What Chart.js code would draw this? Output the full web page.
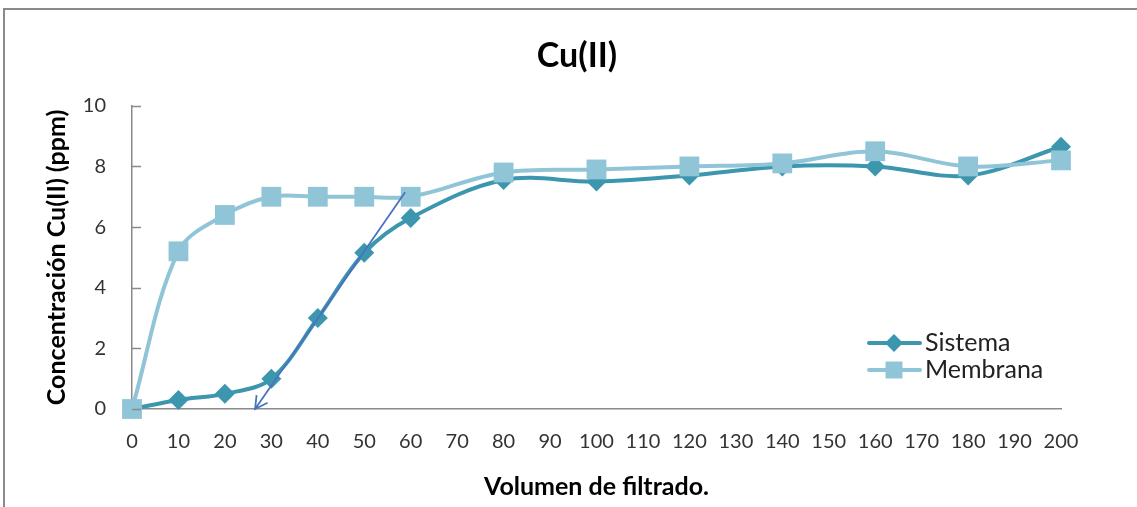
<!DOCTYPE html>
<html>
<head>
<meta charset="utf-8">
<script src="https://cdn.jsdelivr.net/npm/chart.js@4.4.1/dist/chart.umd.min.js"></script>
<style>
  html, body { margin: 0; padding: 0; background: #fff; }
  #wrap { position: relative; width: 1137px; height: 507px; overflow: hidden; }
  #frame { position: absolute; left: 3px; top: 8px; width: 1200px; height: 600px;
           border: 2px solid #8a8a8a; pointer-events: none; }
</style>
</head>
<body>
<div id="wrap">
  <canvas id="chart" width="1137" height="507"></canvas>
  <div id="frame"></div>
</div>
<script>
// Volumen de filtrado (eje X)
const volumen = [0, 10, 20, 30, 40, 50, 60, 80, 100, 120, 140, 160, 180, 200];
// Concentración Cu(II) en ppm
const sistema = [0, 0.3, 0.5, 1.0, 3.0, 5.15, 6.3, 7.55, 7.5, 7.7, 8.0, 8.0, 7.7, 8.65];
const membrana = [0, 5.2, 6.4, 7.0, 7.0, 7.0, 7.0, 7.8, 7.9, 8.0, 8.1, 8.5, 8.0, 8.2];
// Flecha dibujada a mano en el original (coordenadas de datos)
const flecha = [{ x: 58.8, y: 7.15 }, { x: 26.5, y: 0 }];

const COLOR_SISTEMA = '#3b96ae';
const COLOR_MEMBRANA = '#8fc5d7';
const AXIS_COLOR = '#8a8a8a';
const FONT = 'Lato, "Open Sans", sans-serif';

const toPoints = (ys) => volumen.map((x, i) => ({ x, y: ys[i] }));

// marcas del eje Y hacia dentro (estilo Excel)
const innerTicksPlugin = {
  id: 'innerTicks',
  afterDraw(chart) {
    const { ctx, scales: { y } } = chart;
    ctx.save();
    ctx.strokeStyle = AXIS_COLOR;
    ctx.lineWidth = 1.5;
    ctx.beginPath();
    y.ticks.forEach(t => {
      const py = Math.round(y.getPixelForValue(t.value)) + 0.5;
      ctx.moveTo(y.right, py);
      ctx.lineTo(y.right + 9, py);
    });
    ctx.stroke();
    ctx.restore();
  }
};

// leyenda dentro del área del gráfico, como en Excel
const legendPlugin = {
  id: 'insideLegend',
  afterDraw(chart) {
    const ctx = chart.ctx;
    const items = [
      { label: 'Sistema', color: COLOR_SISTEMA, style: 'rectRot', r: 9, y: 343 },
      { label: 'Membrana', color: COLOR_MEMBRANA, style: 'rect', r: 12, y: 370 }
    ];
    ctx.save();
    items.forEach(it => {
      ctx.strokeStyle = it.color;
      ctx.lineWidth = 4;
      ctx.lineCap = 'round';
      ctx.beginPath();
      ctx.moveTo(869, it.y);
      ctx.lineTo(920, it.y);
      ctx.stroke();
      ctx.fillStyle = it.color;
      Chart.helpers.drawPoint(ctx, { pointStyle: it.style, radius: it.r, borderWidth: 0 }, 894, it.y);
      ctx.fillStyle = '#222';
      ctx.font = '25px ' + FONT;
      ctx.textBaseline = 'middle';
      ctx.fillText(it.label, 925, it.y);
    });
    ctx.restore();
  }
};

const arrowPlugin = {
  id: 'arrow',
  afterDatasetsDraw(chart) {
    const { ctx, scales: { x, y } } = chart;
    const x1 = x.getPixelForValue(flecha[0].x), y1 = y.getPixelForValue(flecha[0].y);
    const x2 = x.getPixelForValue(flecha[1].x), y2 = y.getPixelForValue(flecha[1].y);
    const ang = Math.atan2(y2 - y1, x2 - x1);
    ctx.save();
    ctx.strokeStyle = '#4a72c0';
    ctx.lineWidth = 1.8;
    ctx.beginPath();
    ctx.moveTo(x1, y1);
    ctx.lineTo(x2, y2);
    ctx.moveTo(x2 - 14 * Math.cos(ang - 0.5), y2 - 14 * Math.sin(ang - 0.5));
    ctx.lineTo(x2, y2);
    ctx.lineTo(x2 - 14 * Math.cos(ang + 0.5), y2 - 14 * Math.sin(ang + 0.5));
    ctx.stroke();
    ctx.restore();
  }
};

new Chart(document.getElementById('chart'), {
  type: 'line',
  data: {
    datasets: [
      {
        label: 'Sistema',
        data: toPoints(sistema),
        borderColor: COLOR_SISTEMA,
        backgroundColor: COLOR_SISTEMA,
        borderWidth: 4,
        tension: 0.35,
        pointStyle: 'rectRot',
        pointRadius: 10,
        pointBorderWidth: 0,
        clip: false,
        order: 2
      },
      {
        label: 'Membrana',
        data: toPoints(membrana),
        borderColor: COLOR_MEMBRANA,
        backgroundColor: COLOR_MEMBRANA,
        borderWidth: 4,
        tension: 0.35,
        pointStyle: 'rect',
        pointRadius: 14,
        pointBorderWidth: 0,
        clip: false,
        order: 1
      }
    ]
  },
  options: {
    responsive: false,
    animation: false,
    // padding izquierda + eje derecho vacío para centrar el título como en el original
    layout: { padding: { top: 10, right: 0, left: 17, bottom: 0 } },
    plugins: {
      legend: { display: false },
      tooltip: { enabled: false },
      title: {
        display: true,
        text: 'Cu(II)',
        color: '#000',
        font: { family: FONT, size: 34, weight: 'bold' },
        padding: { top: 26, bottom: 29 }
      }
    },
    scales: {
      x: {
        type: 'linear',
        min: 0,
        max: 200,
        afterFit: (s) => { s.height = 98; },
        grid: { display: false, drawTicks: false },
        border: { display: true, color: AXIS_COLOR, width: 1.5 },
        ticks: {
          stepSize: 10,
          padding: 21,
          color: '#333',
          font: { family: FONT, size: 20 },
          maxRotation: 0,
          autoSkip: false
        },
        title: {
          display: true,
          text: 'Volumen de filtrado.',
          color: '#000',
          font: { family: FONT, size: 25, weight: 'bold' },
          padding: { top: 0, bottom: 5 }
        }
      },
      y: {
        min: 0,
        max: 10,
        afterFit: (s) => { s.width = 115; },
        grid: { display: false, drawTicks: false },
        border: { display: true, color: AXIS_COLOR, width: 1.5 },
        ticks: {
          stepSize: 2,
          padding: 26,
          color: '#333',
          font: { family: FONT, size: 20 }
        },
        title: {
          display: true,
          text: 'Concentración Cu(II) (ppm)',
          color: '#000',
          font: { family: FONT, size: 25, weight: 'bold' },
          padding: { top: 25, bottom: 0 }
        }
      },
      derecha: {
        position: 'right',
        afterFit: (s) => { s.width = 76; },
        grid: { display: false },
        border: { display: false },
        ticks: { display: false }
      }
    }
  },
  plugins: [innerTicksPlugin, arrowPlugin, legendPlugin]
});
</script>
</body>
</html>
